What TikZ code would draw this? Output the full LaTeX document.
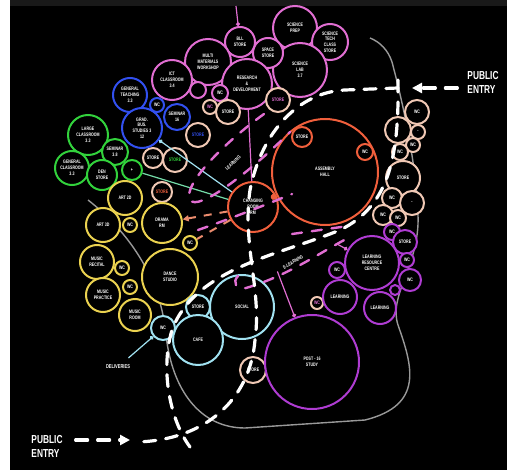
\documentclass[tikz,border=0pt]{standalone}
\usepackage{fontspec}
\setmainfont{Liberation Sans}
\newfontfamily\condfont[FakeStretch=0.72]{Liberation Sans}
\usepackage{tikz}
\usetikzlibrary{arrows.meta,positioning}

\definecolor{pinkc}{RGB}{225,110,210}
\definecolor{bluec}{RGB}{50,80,240}
\definecolor{greenc}{RGB}{50,210,60}
\definecolor{yellowc}{RGB}{235,210,80}
\definecolor{peachc}{RGB}{240,200,180}
\definecolor{orangec}{RGB}{240,95,60}
\definecolor{salmonc}{RGB}{235,140,110}
\definecolor{lbluec}{RGB}{160,225,240}
\definecolor{purplec}{RGB}{175,60,210}
\newcommand{\tinytext}{\condfont\fontsize{2.5}{2.9}\selectfont\bfseries}

\begin{document}
\begin{tikzpicture}[x=0.5pt, y=-0.5pt,
    bub/.style={circle, draw, line width=1pt, fill=black, inner sep=0pt, align=center, text=white, font=\tinytext},
    pk/.style={bub, draw=pinkc},
    bl/.style={bub, draw=bluec},
    gr/.style={bub, draw=greenc},
    yl/.style={bub, draw=yellowc},
    pc/.style={bub, draw=peachc},
    orb/.style={bub, draw=orangec},
    lb/.style={bub, draw=lbluec},
    pu/.style={bub, draw=purplec},
    route/.style={white, line width=1.6pt, line cap=round, dash pattern=on 6pt off 5pt},
    pkroute/.style={pinkc, line width=1.2pt, line cap=round, dash pattern=on 5pt off 5pt},
    orroute/.style={salmonc, line width=1pt, dash pattern=on 4pt off 4pt},
    link/.style={line width=0.6pt},
    grayline/.style={gray!80, line width=0.7pt},
    entry/.style={white, font=\condfont\fontsize{5.8}{7}\selectfont\bfseries, align=left},
    tag/.style={white, font=\tinytext}
]
    % page
    \useasboundingbox (0,0) rectangle (507,470);
    \fill[black] (10,6) rectangle (507,470);
    \fill[black!90] (10,0) rectangle (507,6);
    \fill[white] (0,0) rectangle (10,470);

    % site outline
    \draw[grayline] (88,200) .. controls (120,225) and (160,270) .. (166,335)
        .. controls (172,390) and (200,428) .. (245,428) -- (365,420)
        .. controls (425,405) and (412,365) .. (398,325)
        .. controls (388,295) and (420,265) .. (418,215)
        .. controls (416,160) and (402,100) .. (392,62)
        .. controls (388,50) and (380,42) .. (370,38);

    % Science / technology
    \node[pk, minimum size=22pt] (sciprep) at (295,28) {SCIENCE\\PREP};
    \node[pk, minimum size=18pt] (scistore) at (330,42) {SCIENCE\\TECH\\CLASS\\STORE};
    \node[pk, minimum size=27pt] (scilab) at (300,70) {SCIENCE\\LAB\\3.7};
    \node[pk, minimum size=15pt] (prepstore) at (268,53) {SPACE\\STORE};
    \node[pk, minimum size=15pt] (bll) at (240,42) {BLL\\STORE};
    \node[pk, minimum size=23pt] (workshop) at (208,62) {MULTI\\MATERIALS\\WORKSHOP};
    \node[pk, minimum size=25pt] (research) at (247,84) {RESEARCH\\\&\\DEVELOPMENT};
    \node[pk, minimum size=20pt] (ict) at (172,80) {ICT\\CLASSROOM\\3.4};
    \node[pk, minimum size=8pt] (pk1) at (198,90) {};
    \node[pk, minimum size=8pt] (wc) at (220,93) {WC};

    % Peach support spaces
    \node[pc, minimum size=7pt, text=pinkc] (pc1) at (210,107) {WC};
    \node[pc, minimum size=12pt] (pc2) at (228,112) {STORE};
    \node[pc, minimum size=12pt, text=pinkc] (pc3) at (278,100) {STORE};
    \node[pc, minimum size=12pt, text=bluec] (pc4) at (198,135) {STORE};
    \node[pc, minimum size=10pt] (pc5) at (153,158) {STORE};
    \node[pc, minimum size=12pt, text=greenc] (pc6) at (175,160) {STORE};
    \node[pc, minimum size=10pt, text=orangec] (pc7) at (162,192) {STORE};
    \node[pc, minimum size=12pt] (pr1) at (417,112) {WC};
    \node[pc, minimum size=13pt] (pr2) at (398,130) {};
    \node[pc, minimum size=7pt] (pr3) at (418,132) {-};
    \node[pc, minimum size=7pt] (pr4) at (413,145) {WC};
    \node[pc, minimum size=8pt] (pr5) at (400,152) {WC};
    \node[pc, minimum size=17pt] (pr6) at (403,178) {STORE};
    \node[pc, minimum size=10pt] (pr7) at (392,198) {WC};
    \node[pc, minimum size=12pt] (pr8) at (412,203) {-};
    \node[pc, minimum size=10pt] (pr9) at (383,215) {WC};
    \node[pc, minimum size=8pt] (pr10) at (398,218) {WC};
    \node[pc, minimum size=6pt, text=pinkc] (pc8) at (317,303) {WC};
    \node[pc, minimum size=13pt] (pc9) at (253,370) {STORE};

    % General teaching
    \node[bl, minimum size=17pt] (genteach) at (130,95) {GENERAL\\TEACHING\\3.3};
    \node[bl, minimum size=20pt] (gradbus) at (142,128) {GRAD.\\BUS.\\STUDIES 3\\12};
    \node[bl, minimum size=7pt] (bl1) at (157,105) {WC};
    \node[bl, minimum size=13pt] (sem16) at (177,117) {SEMINAR\\16};
    \node[gr, minimum size=20pt] (largecl) at (88,135) {LARGE\\CLASSROOM\\3.3};
    \node[gr, minimum size=13pt] (sem38) at (115,152) {SEMINAR\\3.8};
    \node[gr, minimum size=17pt] (gencl) at (72,168) {GENERAL\\CLASSROOM\\3.3};
    \node[gr, minimum size=15pt] (denstore) at (102,175) {DEN\\STORE};
    \node[gr, minimum size=10pt] (gs1) at (132,170) {+};

    % Arts
    \node[yl, minimum size=17pt] (art2d) at (125,198) {ART 2D};
    \node[yl, minimum size=17pt] (art3d) at (103,225) {ART 3D};
    \node[yl, minimum size=7pt] (ys1) at (130,225) {WC};
    \node[yl, minimum size=20pt] (drama) at (162,223) {DRAMA\\RM};
    \node[yl, minimum size=7pt] (ys2) at (190,243) {WC};
    \node[yl, minimum size=17pt] (recital) at (97,262) {MUSIC\\RECITAL};
    \node[yl, minimum size=7pt] (ys3) at (122,268) {WC};
    \node[yl, minimum size=28pt] (dance) at (170,277) {DANCE\\STUDIO};
    \node[yl, minimum size=7pt] (ys4) at (130,287) {WC};
    \node[yl, minimum size=17pt] (practice) at (103,295) {MUSIC\\PRACTICE};
    \node[yl, minimum size=16pt] (musicrm) at (135,315) {MUSIC\\ROOM};

    % Hall
    \node[orb, minimum size=53pt] (assembly) at (325,172) {ASSEMBLY\\HALL};
    \node[orb, minimum size=10pt] (os1) at (302,137) {STORE};
    \node[orb, minimum size=8pt] (os2) at (365,152) {WC};
    \node[orb, minimum size=25pt] (changing) at (253,207) {CHANGING\\ROOM\\RM};

    % Social
    \node[lb, minimum size=32pt] (social) at (242,307) {SOCIAL};
    \node[lb, minimum size=12pt] (lb1) at (198,307) {STORE};
    \node[lb, minimum size=25pt] (cafe) at (198,340) {CAFE};
    \node[lb, minimum size=12pt] (lb2) at (163,328) {WC};

    % Learning resources
    \node[pu, minimum size=27pt] (lrc) at (372,263) {LEARNING\\RESOURCE\\CENTRE};
    \node[pu, minimum size=8pt] (pu1) at (337,270) {WC};
    \node[pu, minimum size=8pt] (pu8) at (392,232) {WC};
    \node[pu, minimum size=12pt] (pu2) at (405,242) {STORE};
    \node[pu, minimum size=7pt] (pu3) at (407,260) {WC};
    \node[pu, minimum size=11pt] (pu4) at (410,280) {WC};
    \node[pu, minimum size=5pt] (pu5) at (395,290) {};
    \node[pu, minimum size=17pt] (pu6) at (340,297) {LEARNING};
    \node[pu, minimum size=16pt] (pu7) at (380,308) {LEARNING};
    \node[pu, minimum size=47pt] (post16) at (312,362) {POST - 16\\STUDY};

    % Labels
    \node[tag, rotate=42] (learnlbl) at (233,163) {LEARNING};
    \node[tag, rotate=31] (elearn) at (293,262) {E-LEARNING};
    \node[tag, font=\condfont\fontsize{2.8}{3}\selectfont\bfseries] (deliv) at (118,367) {DELIVERIES};

    % Links
    \coordinate (ptop) at (236,6);
    \coordinate (lrcin) at (337,244);
    \draw[pinkc, link, -{Circle[length=2pt]}] (ptop) -- (bll);
    \draw[pinkc, link] (research) -- (changing);
    \draw[pinkc, link, -{Circle[length=2pt]}] (elearn.west) -- (post16);
    \draw[pinkc, link, -{Circle[length=2pt]}] (lrcin) -- (lrc);
    \draw[lbluec, link, {Circle[length=2pt]}-] (gradbus) -- (changing);
    \draw[lbluec!60!greenc, link] (gs1) -- (changing);
    \draw[lbluec, link, -{Circle[length=2pt]}] (deliv) -- (lb2);
    \draw[orangec, link, -{Circle[length=3pt]}] (changing) -- (assembly);
    \draw[orroute, -{Triangle[length=3pt,width=3pt]}] (changing) -- (drama);
    \draw[orroute] (changing) -- (ys2);

    % Pink routes
    \draw[pkroute] (264,114) .. controls (225,142) and (182,185) .. (190,200)
        .. controls (198,212) and (250,172) .. (290,132);
    \draw[pkroute] (198,230) .. controls (235,217) and (265,205) .. (292,194);
    \draw[pkroute] (238,276) .. controls (232,282) and (236,290) .. (246,288)
        .. controls (290,275) and (320,252) .. (352,236);
    \draw[pkroute] (292,234) -- (348,226);

    % Public routes
    \node[entry] (nlabel) at (483,82) {PUBLIC\\ENTRY};
    \node[entry] (slabel) at (47,446) {PUBLIC\\ENTRY};
    \coordinate (narr) at (412,88);
    \coordinate (sarr) at (130,440);
    \coordinate (nentry) at (398,88);
    \coordinate (sentry) at (137,442);
    \draw[route, -{Triangle[length=5pt,width=5pt]}] (nlabel.west |- narr) ++(-3,0) -- (narr);
    \draw[route, -{Triangle[length=5pt,width=5pt]}] (slabel.east |- sarr) ++(6,0) -- (sarr);
    \draw[route] (nentry) -- (345,90) .. controls (300,92) and (262,130) .. (250,190)
        .. controls (242,245) and (262,290) .. (255,340)
        .. controls (250,400) and (205,440) .. (sentry);
    \draw[route] (nentry) ++(0,-8) .. controls (399,150) and (392,205) .. (340,230)
        .. controls (280,255) and (195,268) .. (172,330)
        .. controls (160,370) and (170,420) .. (190,447);
\end{tikzpicture}
\end{document}
